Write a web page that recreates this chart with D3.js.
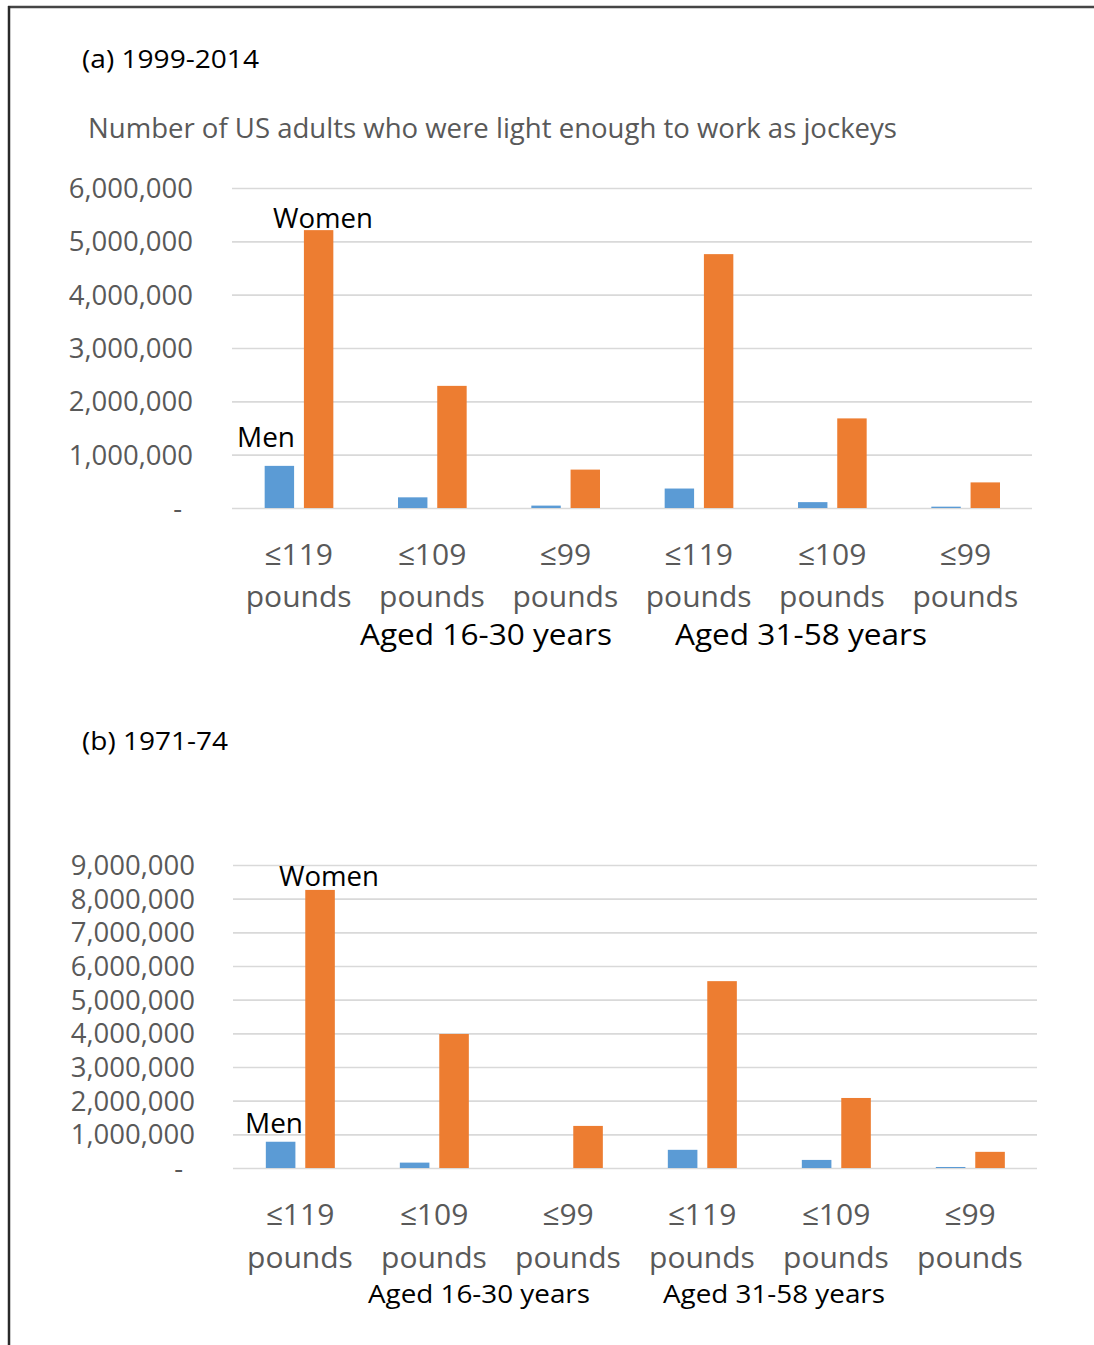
<!DOCTYPE html>
<html>
<head>
<meta charset="utf-8">
<script src="https://cdn.jsdelivr.net/npm/d3@7"></script>
<style>
  html, body { margin: 0; padding: 0; background: #fff; }
  svg { display: block; }
  text { font-family: "Open Sans", "Noto Sans", sans-serif; }
</style>
</head>
<body>
<script>
// ---------- data ----------
const categories = ["≤119", "≤109", "≤99", "≤119", "≤109", "≤99"];
const unitLabel = "pounds";
const series = ["Men", "Women"];
const ageGroups = ["Aged 16-30 years", "Aged 31-58 years"];

// (a) 1999-2014
const menA   = [790000, 200000, 45000, 365000, 110000, 25000];
const womenA = [5210000, 2290000, 720000, 4760000, 1680000, 480000];
const ticksA = [0, 1000000, 2000000, 3000000, 4000000, 5000000, 6000000];

// (b) 1971-74
const menB   = [780000, 160000, 0, 540000, 240000, 30000];
const womenB = [8260000, 3980000, 1250000, 5550000, 2080000, 480000];
const ticksB = [0, 1000000, 2000000, 3000000, 4000000, 5000000, 6000000, 7000000, 8000000, 9000000];

const colors = { Men: "#5b9bd5", Women: "#ed7d31" };

// ---------- drawing ----------
const W = 1094, H = 1345;
const svg = d3.select("body").append("svg").attr("width", W).attr("height", H);

// frame lines
svg.append("line").attr("x1", 8).attr("x2", W).attr("y1", 7).attr("y2", 7)
  .attr("stroke", "#454545").attr("stroke-width", 2.5);
svg.append("line").attr("x1", 9).attr("x2", 9).attr("y1", 6).attr("y2", H)
  .attr("stroke", "#2a2a2a").attr("stroke-width", 2.5);

const fmt = d3.format(",");

function panel(cfg) {
  const g = svg.append("g");
  const y = d3.scaleLinear().domain([0, cfg.max]).range([cfg.y0, cfg.y1]);
  const x0 = d3.scaleBand().domain(d3.range(categories.length)).range([cfg.xl, cfg.xr]).padding(0);
  const bw = x0.bandwidth();
  const x1 = d3.scaleBand().domain(series).range([bw * 0.245, bw * 0.76]).paddingInner(0.25);

  // title
  g.append("text").attr("x", 82).attr("y", cfg.titleY)
    .attr("font-size", 26).attr("fill", "#000")
    .attr("textLength", cfg.titleLen).attr("lengthAdjust", "spacingAndGlyphs")
    .text(cfg.title);

  if (cfg.subtitle) {
    g.append("text").attr("x", 88).attr("y", cfg.subY)
      .attr("font-size", 27).attr("fill", "#595959")
      .attr("textLength", 809).attr("lengthAdjust", "spacingAndGlyphs")
      .text(cfg.subtitle);
  }

  // gridlines + y tick labels
  const yAxis = d3.axisLeft(y).tickValues(cfg.ticks)
    .tickSize(-(cfg.xr - cfg.xl)).tickPadding(0)
    .tickFormat(d => d === 0 ? "-" : fmt(d));
  const ax = g.append("g").attr("transform", `translate(${cfg.xl},0)`).call(yAxis);
  ax.select(".domain").remove();
  ax.selectAll(".tick line").attr("stroke", "#d9d9d9").attr("stroke-width", 1.6);
  ax.selectAll(".tick text")
    .attr("x", d => d === 0 ? cfg.zeroX - cfg.xl : cfg.labelX - cfg.xl)
    .attr("dy", "0.35em")
    .attr("font-size", 27.5).attr("fill", "#595959")
    .attr("font-family", "\"Open Sans\", sans-serif");

  // bars
  const rows = categories.map((c, i) => ({ i, Men: cfg.men[i], Women: cfg.women[i] }));
  const grp = g.selectAll("g.grp").data(rows).join("g")
    .attr("class", "grp")
    .attr("transform", d => `translate(${x0(d.i)},0)`);
  grp.selectAll("rect").data(d => series.map(s => ({ s, v: d[s] }))).join("rect")
    .attr("x", d => x1(d.s))
    .attr("width", x1.bandwidth())
    .attr("y", d => y(d.v))
    .attr("height", d => y(0) - y(d.v))
    .attr("fill", d => colors[d.s]);

  // category labels
  categories.forEach((c, i) => {
    const cx = x0(i) + bw / 2;
    g.append("text").attr("x", cx).attr("y", cfg.catY1).attr("text-anchor", "middle")
      .attr("font-size", 30).attr("fill", "#595959").text(c);
    g.append("text").attr("x", cx).attr("y", cfg.catY2).attr("text-anchor", "middle")
      .attr("font-size", 30).attr("fill", "#595959").text(unitLabel);
  });

  // age group labels
  ageGroups.forEach((a, k) => {
    g.append("text").attr("x", cfg.ageX[k]).attr("y", cfg.ageY).attr("text-anchor", "middle")
      .attr("font-size", cfg.ageSize).attr("fill", "#000")
      .attr("textLength", cfg.ageLen).attr("lengthAdjust", "spacingAndGlyphs")
      .text(a);
  });

  // series labels
  g.append("text").attr("x", cfg.womenLbl[0]).attr("y", cfg.womenLbl[1])
    .attr("font-size", 27).attr("fill", "#000")
    .attr("textLength", 100).attr("lengthAdjust", "spacingAndGlyphs").text("Women");
  g.append("text").attr("x", cfg.menLbl[0]).attr("y", cfg.menLbl[1])
    .attr("font-size", 27).attr("fill", "#000")
    .attr("textLength", 58).attr("lengthAdjust", "spacingAndGlyphs").text("Men");
}

panel({
  title: "(a) 1999-2014", titleY: 68, titleLen: 177,
  subtitle: "Number of US adults who were light enough to work as jockeys", subY: 138,
  men: menA, women: womenA, ticks: ticksA, max: 6000000,
  y0: 508, y1: 188, xl: 232, xr: 1032,
  labelX: 193, zeroX: 182,
  catY1: 565, catY2: 607,
  ageX: [486, 801], ageY: 645, ageSize: 29, ageLen: 252,
  womenLbl: [273, 228], menLbl: [237, 447]
});

panel({
  title: "(b) 1971-74", titleY: 750, titleLen: 146,
  subtitle: null,
  men: menB, women: womenB, ticks: ticksB, max: 9000000,
  y0: 1168, y1: 865, xl: 233, xr: 1037,
  labelX: 195, zeroX: 183,
  catY1: 1225, catY2: 1268,
  ageX: [479, 774], ageY: 1303, ageSize: 26, ageLen: 222,
  womenLbl: [279, 886], menLbl: [245, 1133]
});
</script>
</body>
</html>
